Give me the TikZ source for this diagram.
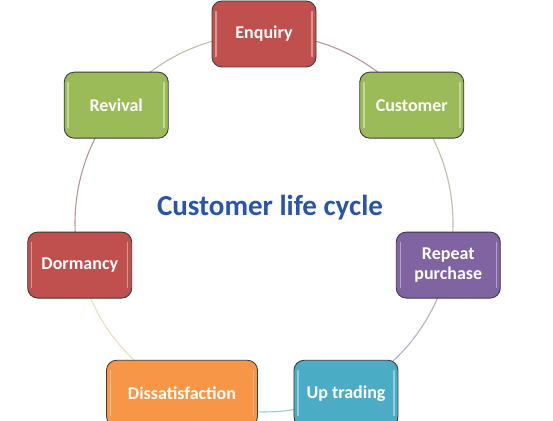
\documentclass[tikz,border=0pt]{standalone}
\usepackage{fontspec}
\setmainfont{Carlito}
\usetikzlibrary{backgrounds}
\definecolor{cred}{RGB}{192,80,77}
\definecolor{cgreen}{RGB}{155,187,89}
\definecolor{cpurple}{RGB}{128,100,162}
\definecolor{caqua}{RGB}{75,172,198}
\definecolor{corange}{RGB}{247,150,70}
\definecolor{aredc}{RGB}{185,150,150}
\definecolor{agreenc}{RGB}{185,195,165}
\definecolor{apurplec}{RGB}{185,175,200}
\definecolor{abluec}{RGB}{150,205,220}
\definecolor{aorangec}{RGB}{240,220,190}
\definecolor{titleblue}{RGB}{40,85,170}
\definecolor{boxline}{RGB}{60,60,60}
\tikzset{
  x=1pt, y=1pt,
  stagebox/.style={draw=boxline, line width=0.9pt, rounded corners=10pt,
    fill=#1, text=white, font=\bfseries\fontsize{18}{20}\selectfont,
    minimum width=104pt, minimum height=66pt, align=center, inner sep=2pt,
    path picture={
      \draw[white, opacity=0.4, line width=1.5pt]
        ([xshift=4pt,yshift=10pt]path picture bounding box.south west) --
        ([xshift=4pt,yshift=-10pt]path picture bounding box.north west);
      \draw[white, opacity=0.4, line width=1.5pt]
        ([xshift=-4pt,yshift=10pt]path picture bounding box.south east) --
        ([xshift=-4pt,yshift=-10pt]path picture bounding box.north east);
    }},
  cyclearc/.style={draw=#1, line width=1.1pt},
}
\begin{document}
\begin{tikzpicture}
\useasboundingbox (0,0) rectangle (553,420);
\clip (0,0) rectangle (553,420);
\coordinate (c) at (264,197);

\node[stagebox=cred]    (enq)  at ([shift={(90:189)}]c)     {Enquiry};
\node[stagebox=cgreen]  (cust) at ([shift={(38.57:189)}]c)  {Customer};
\node[stagebox=cpurple] (rep)  at ([shift={(-12.86:189)}]c) {Repeat\\purchase};
\node[stagebox=caqua]   (up)   at ([shift={(-64.29:189)}]c) {Up trading};
\node[stagebox=corange, minimum width=151pt] (dis) at ([shift={(-115.71:189)}]c) {Dissatisfaction};
\node[stagebox=cred]    (dor)  at ([shift={(-167.14:189)}]c) {Dormancy};
\node[stagebox=cgreen]  (rev)  at ([shift={(141.43:189)}]c) {Revival};

\begin{scope}[on background layer]
\fill[white] (0,0) rectangle (553,420);
\draw[cyclearc=aredc]    (enq.center)  arc[start angle=90, end angle=38.57, radius=189];
\draw[cyclearc=agreenc]  (cust.center) arc[start angle=38.57, end angle=-12.86, radius=189];
\draw[cyclearc=apurplec] (rep.center)  arc[start angle=-12.86, end angle=-64.29, radius=189];
\draw[cyclearc=abluec]   (up.center)   arc[start angle=-64.29, end angle=-115.71, radius=189];
\draw[cyclearc=aorangec] (dis.center)  arc[start angle=-115.71, end angle=-167.14, radius=189];
\draw[cyclearc=aredc]    (dor.center)  arc[start angle=-167.14, end angle=-218.57, radius=189];
\draw[cyclearc=agreenc]  (rev.center)  arc[start angle=141.43, end angle=90, radius=189];
\end{scope}

\node[text=titleblue, font=\bfseries\fontsize{29}{32}\selectfont] (title) at (270,212) {Customer life cycle};
\end{tikzpicture}
\end{document}
